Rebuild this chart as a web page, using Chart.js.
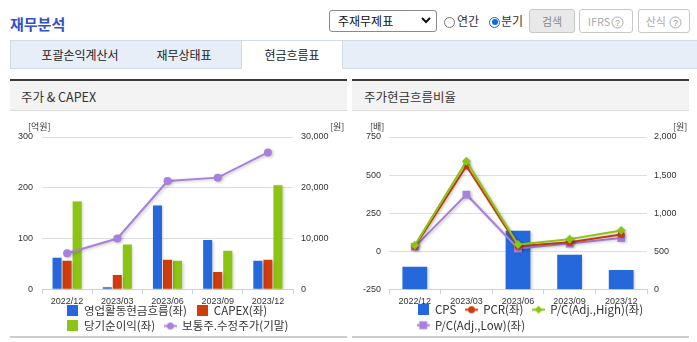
<!DOCTYPE html>
<html><head><meta charset="utf-8">
<script src="https://cdn.jsdelivr.net/npm/chart.js@4.4.1/dist/chart.umd.min.js"></script>
<style>
html,body{margin:0;padding:0;width:697px;height:342px;overflow:hidden;background:#fff;font-family:"Noto Sans CJK KR","Noto Sans",sans-serif;color:#333;}
.a{position:absolute;}
#title{left:10px;top:13px;font-size:15px;font-weight:bold;color:#3350c8;line-height:21px;}
#sel{left:329px;top:10px;width:106px;height:20px;border:1px solid #8a8a8a;border-radius:3px;background:#fff;}
#sel span{position:absolute;left:8px;top:0;font-size:12px;line-height:20px;color:#111;}
#sel svg{position:absolute;left:91px;top:6px;}
.radio{width:9px;height:9px;border:1px solid #767676;border-radius:50%;background:#fff;}
.radio.on{border-color:#0b6be0;}
.radio.on:after{content:"";position:absolute;left:1.5px;top:1.5px;width:6px;height:6px;border-radius:50%;background:#0b6be0;}
.lbl{font-size:12px;line-height:16px;color:#333;}
.btn{height:22px;border:1px solid #c8c8c8;border-radius:3px;background:#fff;font-size:11px;line-height:22px;color:#aaa;text-align:center;box-sizing:content-box;}
.btn.gray{background:#e9e9e9;color:#888;}
.btn svg{vertical-align:-3px;margin-left:1px;}
#tabs{left:10px;top:40px;width:687px;height:27px;background:#e8eef8;border:1px solid #d2dbe8;border-right:none;}
#tabOn{left:241px;top:40px;width:100px;height:28px;background:#fff;border:1px solid #d2dbe8;border-bottom:none;}
.tab{font-size:12px;line-height:16px;color:#222;transform:translateX(-50%);white-space:nowrap;}
.ph{height:29px;background:#f3f3f3;border-top:2px solid #3a3a3a;border-bottom:1px solid #dcdcdc;}
.pt{font-size:12.5px;line-height:16px;color:#333;}
.bl{height:2px;background:#cdcdcd;z-index:5;}
canvas{position:absolute;}
</style>
</head><body>
<div class="a" id="title">재무분석</div>
<div class="a" id="sel"><span>주재무제표</span><svg width="10" height="7" viewBox="0 0 10 7"><polyline points="1,1 5,5 9,1" fill="none" stroke="#111" stroke-width="2"/></svg></div>
<div class="a radio" style="left:444px;top:16.5px;"></div>
<div class="a lbl" style="left:457px;top:13px;">연간</div>
<div class="a radio on" style="left:489px;top:16.5px;"></div>
<div class="a lbl" style="left:501px;top:13px;">분기</div>
<div class="a btn gray" style="left:529px;top:9px;width:44px;">검색</div>
<div class="a btn" style="left:579px;top:9px;width:52px;">IFRS<svg width="13" height="13" viewBox="0 0 13 13"><circle cx="6.5" cy="6.5" r="5.5" fill="none" stroke="#aaa"/><text x="6.5" y="10" font-size="9" text-anchor="middle" fill="#999" font-family="Liberation Sans">?</text></svg></div>
<div class="a btn" style="left:638px;top:9px;width:50px;">산식 <svg width="13" height="13" viewBox="0 0 13 13"><circle cx="6.5" cy="6.5" r="5.5" fill="none" stroke="#aaa"/><text x="6.5" y="10" font-size="9" text-anchor="middle" fill="#999" font-family="Liberation Sans">?</text></svg></div>
<div class="a" id="tabs"></div>
<div class="a" id="tabOn"></div>
<div class="a tab" style="left:80px;top:47px;">포괄손익계산서</div>
<div class="a tab" style="left:184px;top:47px;">재무상태표</div>
<div class="a tab" style="left:292px;top:47px;">현금흐름표</div>

<div class="a ph" style="left:10px;top:79px;width:337px;"></div>
<div class="a pt" style="left:21px;top:89px;">주가 &amp; CAPEX</div>
<div class="a ph" style="left:352px;top:79px;width:337px;"></div>
<div class="a pt" style="left:364px;top:89px;">주가현금흐름비율</div>

<canvas id="c1" width="337" height="238" style="left:10px;top:112px;width:337px;height:238px;"></canvas>
<canvas id="c2" width="337" height="238" style="left:352px;top:112px;width:337px;height:238px;"></canvas>
<div class="a bl" style="left:10px;top:336px;width:337px;"></div>
<div class="a bl" style="left:352px;top:336px;width:337px;"></div>

<script>
// ---- data ----
const categories = ['2022/12', '2023/03', '2023/06', '2023/09', '2023/12'];
// 주가 & CAPEX (억원 / 원)
const opCashFlow = [62, 4, 165, 97, 56];
const capex = [56, 28, 58, 34, 58];
const netIncome = [173, 88, 56, 76, 205];
const adjClosePrice = [7090, 9990, 21320, 21990, 26960];
// 주가현금흐름비율 (배 / 원)
const cps = [295, 0, 768, 454, 252];
const pcr = [30, 559, 33, 59, 110];
const pcHigh = [38, 591, 43, 79, 136];
const pcLow = [28, 372, 17, 50, 86];
// axis tick values
const leftTicksA = [0, 100, 200, 300];
const rightTicksA = [0, 10000, 20000, 30000];
const leftTicksB = [-250, 0, 250, 500, 750];
const rightTicksB = [0, 500, 1000, 1500, 2000];

const C = {blue:'#2468dc', red:'#d03c0c', green:'#8cc414', purple:'#a781dd'};
const tickFont = {family:'"Liberation Sans", Arial, sans-serif', size:9};
const tickColor = '#333';
const legendFont = {family:'"Noto Sans CJK KR", sans-serif', size:11.5};
const fmt = v => Number(v).toLocaleString('en-US');

function sq(color){const c=document.createElement('canvas');c.width=11;c.height=11;const x=c.getContext('2d');x.fillStyle=color;x.fillRect(0,0,11,11);return c;}
function mk(color, shape){
  const c=document.createElement('canvas');c.width=13;c.height=11;const x=c.getContext('2d');
  x.strokeStyle=color;x.lineWidth=2;x.beginPath();x.moveTo(0,5.5);x.lineTo(13,5.5);x.stroke();
  x.fillStyle=color;x.beginPath();
  if(shape==='circle'){x.arc(6.5,5.5,3.5,0,Math.PI*2);}
  else if(shape==='diamond'){x.moveTo(6.5,1.5);x.lineTo(10.5,5.5);x.lineTo(6.5,9.5);x.lineTo(2.5,5.5);x.closePath();}
  else {x.rect(2.5,1.5,8,8);}
  x.fill();return c;
}

const shadowPlugin = {
  id:'shadowFx',
  beforeDatasetsDraw(chart){const c=chart.ctx;c.save();c.shadowColor='rgba(0,0,0,0.22)';c.shadowBlur=3;c.shadowOffsetX=1.5;c.shadowOffsetY=1;},
  afterDatasetsDraw(chart){chart.ctx.restore();}
};
const legendShift = {
  id:'legendShift',
  afterLayout(chart, args, o){
    const L = chart.legend; if(!L) return;
    const w = L.right - L.left; L.left = o.left; L.right = o.left + w;
    const h = L.bottom - L.top; L.top = o.top; L.bottom = o.top + h;
  }
};
const unitPlugin = {
  id:'units',
  afterDraw(chart, args, o){
    const ctx = chart.ctx; ctx.save();
    ctx.font = '9px "Noto Sans CJK KR", sans-serif'; ctx.fillStyle = '#333'; ctx.textBaseline = 'middle';
    o.items.forEach(it => { ctx.textAlign = it.align; ctx.fillText(it.text, it.x, it.y); });
    ctx.restore();
  }
};

function legendOpts(icons){
  return {
    position:'bottom', align:'start', fullSize:false,
    labels:{
      usePointStyle:true, pointStyleWidth:12, boxHeight:11, padding:4, color:'#333', font:legendFont,
      generateLabels(chart){
        const items = Chart.defaults.plugins.legend.labels.generateLabels(chart);
        items.forEach(it => { it.pointStyle = icons[it.datasetIndex]; it.text = it.text + '  '; });
        return items.sort((a,b) => a.datasetIndex - b.datasetIndex);
      }
    }
  };
}

function xScale(){
  return {
    offset:true,
    grid:{display:true, drawOnChartArea:false, drawTicks:true, tickLength:5, color:'#c6d3e3', offset:true},
    border:{display:true, color:'#c6d3e3'},
    ticks:{font:tickFont, color:tickColor, padding:2, maxRotation:0, autoRotation:false, autoSkip:false}
  };
}
function yScale(ticks, pos, width, pad, grid){
  return {
    position:pos, min:ticks[0], max:ticks[ticks.length-1],
    afterBuildTicks(s){ s.ticks = ticks.map(v => ({value:v})); },
    ticks:{font:tickFont, color:tickColor, padding:pad, callback:v => fmt(v)},
    grid:{display:grid, color:'#dedede', drawTicks:false},
    border:{display:false},
    afterFit(s){ s.width = width; }
  };
}

new Chart(document.getElementById('c1'), {
  type:'bar',
  data:{
    labels:categories,
    datasets:[
      {label:'영업활동현금흐름(좌)', data:opCashFlow, backgroundColor:C.blue, yAxisID:'y', order:1, categoryPercentage:0.6, barPercentage:0.9},
      {label:'CAPEX(좌)', data:capex, backgroundColor:C.red, yAxisID:'y', order:1, categoryPercentage:0.6, barPercentage:0.9},
      {label:'당기순이익(좌)', data:netIncome, backgroundColor:C.green, yAxisID:'y', order:1, categoryPercentage:0.6, barPercentage:0.9},
      {label:'보통주.수정주가(기말)', type:'line', data:adjClosePrice, yAxisID:'y1', order:0, borderColor:C.purple, backgroundColor:C.purple, borderWidth:2, pointRadius:4, pointBorderWidth:0, pointBackgroundColor:C.purple, tension:0}
    ]
  },
  options:{
    responsive:false, animation:false, devicePixelRatio:1, events:[],
    layout:{padding:{left:0, right:10, top:25, bottom:0}},
    scales:{ x:xScale(), y:yScale(leftTicksA,'left',32,9,true), y1:yScale(rightTicksA,'right',44,8,false) },
    plugins:{
      tooltip:{enabled:false},
      legend:legendOpts([sq(C.blue), sq(C.red), sq(C.green), mk(C.purple,'circle')]),
      legendShift:{left:52.2, top:188.7},
      units:{items:[{text:'[억원]', x:18, y:15, align:'left'},{text:'[원]', x:320, y:15, align:'left'}]}
    }
  },
  plugins:[shadowPlugin, legendShift, unitPlugin]
});

new Chart(document.getElementById('c2'), {
  type:'bar',
  data:{
    labels:categories,
    datasets:[
      {label:'CPS', data:cps, backgroundColor:C.blue, yAxisID:'y1', order:4, categoryPercentage:0.48, barPercentage:1},
      {label:'PCR(좌)', type:'line', data:pcr, yAxisID:'y', order:2, borderColor:C.red, backgroundColor:C.red, borderWidth:2, pointStyle:'circle', pointRadius:3.5, pointBorderWidth:0, pointBackgroundColor:C.red, tension:0},
      {label:'P/C(Adj.,High)(좌)', type:'line', data:pcHigh, yAxisID:'y', order:1, borderColor:C.green, backgroundColor:C.green, borderWidth:2, pointStyle:'rectRot', pointRadius:4.5, pointBorderWidth:0, pointBackgroundColor:C.green, tension:0},
      {label:'P/C(Adj.,Low)(좌)', type:'line', data:pcLow, yAxisID:'y', order:3, borderColor:C.purple, backgroundColor:C.purple, borderWidth:2, pointStyle:'rect', pointRadius:5.5, pointBorderWidth:0, pointBackgroundColor:C.purple, tension:0}
    ]
  },
  options:{
    responsive:false, animation:false, devicePixelRatio:1, events:[],
    layout:{padding:{left:0, right:10, top:25, bottom:0}},
    scales:{ x:xScale(), y:yScale(leftTicksB,'left',37,8,true), y1:yScale(rightTicksB,'right',32,7,false) },
    plugins:{
      tooltip:{enabled:false},
      legend:legendOpts([sq(C.blue), mk(C.red,'circle'), mk(C.green,'diamond'), mk(C.purple,'square')]),
      legendShift:{left:61.2, top:188},
      units:{items:[{text:'[배]', x:18, y:15, align:'left'},{text:'[원]', x:321, y:15, align:'left'}]}
    }
  },
  plugins:[shadowPlugin, legendShift, unitPlugin]
});
</script>
</body></html>
